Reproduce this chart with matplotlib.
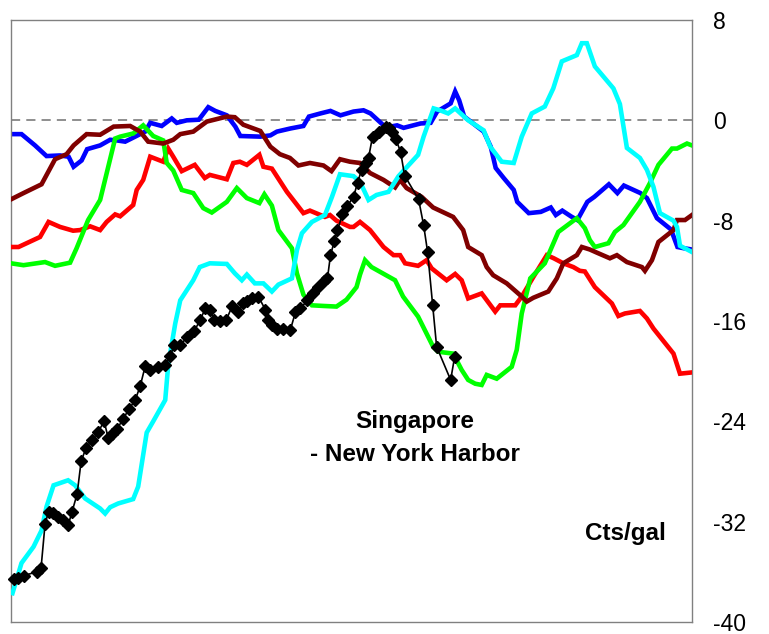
import matplotlib
matplotlib.use("Agg")
import matplotlib.pyplot as plt

plt.rcParams['font.family'] = ['Liberation Sans', 'DejaVu Sans']

# Weekly spreads, cents per gallon (x = week number)
blue_w = [0, 2.1, 4.8, 7.1, 9.8, 11.5, 12.5, 14.1, 15.2, 17.8, 19.8, 21.1, 22.8, 24.8, 26.8,
          27.8, 30.1, 32.1, 33.1, 35.1, 37.5, 39.4, 40.8, 43.1, 44.8, 45.8, 49.8, 51.8, 53.1,
          55.8, 58.4, 59.5, 61.8, 63.8, 65.8, 68.4, 70.4, 71.8, 74.4, 75.8, 77.1, 78.4, 81.8,
          83.8, 85.1, 87.8, 88.7, 89.5, 90.5, 93.1, 94.4, 95.8, 96.8, 98.4, 100.4, 101.1, 103.4,
          105.8, 107.8, 108.8, 110.1, 111.8, 113.1, 115.1, 116.5, 119.4, 121.1, 122.4, 125.7,
          127.0, 129.0, 131.8, 133.1, 134.4, 136]
blue_v = [-1.1, -1.1, -2.0, -2.85, -2.8, -2.9, -3.7, -3.2, -2.3, -2.0, -1.55, -1.6, -1.7, -1.3,
          -0.9, -0.2, -0.45, 0.15, -0.2, 0.0, 0.05, 1.05, 0.75, 0.4, -0.5, -1.25, -1.3, -1.2, -0.9,
          -0.65, -0.45, 0.3, 0.55, 0.75, 0.4, 0.7, 0.8, 0.55, -0.4, -0.5, -0.4, -0.6, -0.25, -0.2,
          0.7, 1.35, 2.3, 1.6, 0.3, -0.5, -0.9, -2.1, -3.8, -4.6, -5.55, -6.5, -7.4, -7.3, -6.95,
          -7.55, -7.2, -7.65, -7.95, -6.5, -6.1, -5.1, -5.8, -5.2, -5.8, -6.2, -7.8, -8.7, -10.1,
          -10.2, -10.3]

red_w = [0, 1.5, 5.8, 7.5, 9.8, 12.4, 13.8, 15.8, 17.8, 19.1, 20.8, 21.8, 24.4, 25.1, 26.4,
         27.8, 30.4, 31.4, 32.4, 34.1, 36.7, 38.7, 39.7, 43.1, 44.4, 45.7, 47.1, 49.6, 50.4, 52.1,
         55.1, 58.4, 59.7, 62.7, 63.7, 65.0, 67.7, 68.4, 69.7, 71.7, 74.4, 76.4, 77.7, 78.7, 81.3,
         83.0, 84.0, 87.0, 88.7, 90.0, 91.3, 94.0, 96.7, 97.7, 100.7, 102.0, 104.3, 107.0, 108.4,
         110.3, 112.3, 113.6, 114.6, 116.6, 120.0, 121.3, 122.6, 125.6, 127.0, 128.3, 132.3,
         133.6, 136]
red_v = [-10.1, -10.1, -9.3, -8.1, -8.5, -8.8, -8.75, -8.45, -8.75, -8.1, -7.5, -7.65, -6.75,
         -5.55, -4.75, -2.9, -3.3, -2.25, -2.9, -4.05, -3.55, -4.6, -4.35, -4.7, -3.4, -3.3, -3.55,
         -2.75, -3.7, -3.85, -5.7, -7.4, -7.2, -7.7, -7.55, -8.0, -8.5, -8.5, -8.1, -8.75, -10.1,
         -10.75, -10.75, -11.4, -11.6, -11.15, -11.8, -12.75, -12.25, -12.75, -14.2, -13.8,
         -15.25, -14.75, -14.75, -14.05, -12.5, -10.75, -11.0, -11.4, -11.7, -12.0, -12.05,
         -13.3, -14.6, -15.6, -15.4, -15.2, -15.8, -16.6, -18.6, -20.2, -20.1]

green_w = [0, 2.5, 6.8, 8.8, 11.8, 13.1, 15.4, 17.8, 20.8, 21.8, 24.4, 26.4, 28.4, 30.4, 31.1,
           32.4, 34.1, 36.4, 38.4, 40.1, 43.1, 45.1, 47.1, 49.6, 50.6, 52.1, 53.4, 56.1, 57.1,
           58.4, 60.1, 62.4, 65.0, 67.0, 69.0, 69.7, 70.7, 72.0, 76.7, 78.3, 81.3, 84.3, 85.3,
           88.3, 90.0, 91.3, 92.7, 94.0, 95.0, 97.0, 100.0, 101.0, 102.0, 103.7, 106.6, 108.0,
           109.3, 113.0, 114.6, 115.6, 116.6, 119.3, 120.6, 122.3, 125.6, 127.6, 129.3, 132.0,
           133.0, 135.0, 136]
green_v = [-11.4, -11.55, -11.3, -11.6, -11.35, -10.2, -7.95, -6.35, -1.45, -1.3, -1.05, -0.4,
           -1.25, -1.6, -3.4, -4.0, -5.55, -5.8, -7.0, -7.35, -6.5, -5.4, -6.2, -6.6, -5.9, -6.8,
           -8.75, -10.2, -12.2, -13.9, -14.75, -14.8, -14.85, -14.3, -13.3, -12.3, -11.15, -11.7,
           -12.75, -14.05, -15.65, -18.05, -18.45, -18.6, -19.9, -20.7, -21.0, -21.1, -20.3,
           -20.6, -19.65, -18.3, -15.4, -12.6, -11.4, -10.1, -8.9, -7.8, -8.6, -9.55, -10.1,
           -9.8, -8.9, -8.35, -6.5, -5.0, -3.55, -2.25, -2.25, -1.85, -2.0]

brown_w = [0, 2.5, 6.1, 8.8, 11.1, 12.5, 15.1, 17.8, 20.5, 23.8, 25.8, 27.4, 30.4, 32.4, 33.8,
           36.4, 39.1, 43.1, 44.7, 46.4, 49.8, 51.8, 53.7, 55.7, 57.4, 59.7, 62.4, 64.0, 65.7,
           67.7, 69.7, 71.7, 74.4, 76.7, 77.7, 79.0, 82.0, 84.3, 88.3, 90.3, 91.3, 94.0, 95.0,
           96.3, 99.0, 102.0, 103.0, 104.3, 107.3, 109.0, 110.3, 113.0, 114.0, 115.6, 117.0,
           119.6, 121.0, 123.0, 126.0, 126.6, 128.0, 129.3, 132.3, 133.0, 134.6, 136]
brown_v = [-6.3, -5.8, -5.1, -3.1, -2.7, -2.0, -1.1, -1.15, -0.5, -0.45, -0.9, -1.7, -1.85,
           -1.55, -1.1, -0.9, -0.1, 0.3, 0.25, -0.35, -0.85, -2.1, -2.7, -3.0, -3.6, -3.4, -3.6,
           -4.05, -3.1, -3.3, -3.4, -4.2, -4.75, -5.35, -4.75, -5.4, -6.1, -6.95, -7.7, -8.75,
           -10.1, -10.75, -11.7, -12.35, -13.0, -14.05, -14.45, -14.15, -13.65, -12.6, -11.4,
           -10.75, -10.1, -10.3, -10.55, -11.0, -10.75, -11.3, -11.7, -12.0, -11.15, -9.7, -8.75,
           -7.95, -7.95, -7.55]

cyan_w = [0.3, 2.1, 4.5, 6.1, 7.1, 8.5, 11.4, 12.8, 14.8, 17.8, 18.8, 19.8, 21.4, 24.4, 25.4,
          27.1, 28.4, 30.8, 31.4, 32.8, 33.8, 36.4, 37.7, 39.7, 43.1, 44.7, 46.1, 47.1, 48.7,
          50.4, 52.1, 53.4, 56.1, 57.1, 58.1, 60.1, 62.7, 64.1, 65.7, 68.4, 69.7, 71.4, 73.0,
          75.4, 77.4, 81.3, 82.4, 84.4, 85.7, 87.3, 88.7, 91.3, 94.4, 95.7, 98.0, 100.4, 102.0,
          104.0, 106.6, 108.3, 110.0, 113.0, 114.0, 115.0, 116.6, 120.3, 121.6, 123.0, 125.6,
          127.0, 128.3, 129.6, 132.3, 133.0, 133.6, 136]
cyan_v = [-37.7, -35.3, -34.0, -32.7, -30.8, -29.1, -28.7, -29.1, -30.15, -30.95, -31.35,
          -30.85, -30.55, -30.2, -29.2, -24.9, -24.0, -22.3, -19.5, -16.2, -14.35, -12.75, -11.7,
          -11.4, -11.45, -12.2, -12.75, -12.3, -13.0, -13.0, -13.65, -13.1, -12.6, -10.35, -9.0,
          -8.1, -7.55, -6.1, -4.3, -4.45, -4.9, -6.35, -5.95, -5.7, -4.45, -2.75, -1.3, 0.95,
          0.8, 0.55, 0.95, 0.0, -0.8, -2.1, -3.3, -3.4, -1.3, 0.55, 1.1, 2.55, 4.7, 5.2, 6.15,
          6.15, 4.3, 2.55, 1.3, -2.2, -3.0, -3.95, -5.3, -7.4, -8.0, -8.5, -10.0, -10.5]

# Singapore - New York Harbor
sny_w = [0.5, 1.4, 2.5, 5.2, 6.0, 6.8, 7.5, 8.4, 9.4, 10.4, 11.4, 12.2, 13.2, 14.0, 15.0, 16.2,
         17.4, 18.6, 19.4, 20.2, 21.2, 22.4, 23.6, 24.8, 25.8, 26.8, 27.8, 29.4, 30.8, 31.8,
         32.6, 33.8, 35.2, 36.6, 37.8, 38.8, 39.8, 40.6, 41.8, 43.0, 44.2, 45.4, 46.4, 47.2,
         48.2, 49.4, 50.8, 51.4, 52.2, 53.2, 54.4, 55.8, 56.8, 57.8, 59.2, 60.4, 61.4, 62.6,
         63.2, 63.8, 64.6, 65.2, 66.2, 67.2, 68.4, 69.2, 70.0, 70.8, 71.4, 72.2, 73.4, 74.8,
         75.4, 76.0, 76.8, 77.8, 78.6, 81.4, 82.4, 83.2, 84.2, 85.0, 87.8, 88.6]
sny_v = [-36.6, -36.5, -36.3, -36.0, -35.7, -32.2, -31.2, -31.3, -31.6, -31.9, -32.3, -31.2,
         -29.8, -27.2, -26.1, -25.5, -24.85, -24.0, -25.3, -25.0, -24.6, -23.8, -23.0, -22.3,
         -21.2, -19.6, -19.9, -19.7, -19.5, -18.8, -17.9, -17.9, -17.3, -16.8, -15.9, -15.0,
         -15.1, -15.9, -16.0, -15.9, -14.8, -15.3, -14.6, -14.4, -14.2, -14.05, -15.1, -15.9,
         -16.3, -16.6, -16.6, -16.7, -15.3, -15.0, -14.35, -13.8, -13.3, -12.8, -12.6, -10.75,
         -9.6, -8.75, -7.5, -6.8, -6.1, -5.0, -3.95, -3.4, -3.0, -1.3, -0.9, -0.5, -0.65, -0.9,
         -1.45, -2.5, -4.4, -6.3, -8.35, -10.5, -14.7, -18.05, -20.7, -18.85]

y_ticks = [8, 0, -8, -16, -24, -32, -40]

fig = plt.figure(figsize=(7.69, 6.34), dpi=100)
ax = fig.add_axes([11 / 769, 12 / 634, 681 / 769, 602 / 634])

lw = 3.3
ax.axhline(0, color='#707070', lw=1.1, ls=(0, (6, 4)), zorder=1)
ax.plot(blue_w, blue_v, color='#0000FF', lw=lw, zorder=2, solid_joinstyle='miter')
ax.plot(red_w, red_v, color='#FF0000', lw=lw, zorder=3, solid_joinstyle='miter')
ax.plot(green_w, green_v, color='#00FF00', lw=lw, zorder=4, solid_joinstyle='miter')
ax.plot(brown_w, brown_v, color='#800000', lw=lw, zorder=5, solid_joinstyle='miter')
ax.plot(cyan_w, cyan_v, color='#00FFFF', lw=lw, zorder=6, solid_joinstyle='miter')
ax.plot(sny_w, sny_v, color='black', lw=1.2, marker='D', ms=6, mfc='black', mec='black',
        zorder=7, clip_on=False)

ax.set_xlim(0, 136)
ax.set_ylim(-40, 8)
ax.set_xticks([])
ax.yaxis.tick_right()
ax.set_yticks(y_ticks)
ax.set_yticklabels([str(t) for t in y_ticks])
ax.tick_params(axis='y', length=0, pad=15, labelsize=16.5)
for lab in ax.get_yticklabels():
    lab.set_horizontalalignment('left')

for s in ax.spines.values():
    s.set_color('#808080')
    s.set_linewidth(1.0)

ax.text(80.7, -24.55, 'Singapore', ha='center', va='baseline', fontsize=17.5,
        fontweight='bold')
ax.text(80.7, -27.2, '- New York Harbor', ha='center', va='baseline', fontsize=17.5,
        fontweight='bold')
ax.text(122.8, -33.45, 'Cts/gal', ha='center', va='baseline', fontsize=17.5,
        fontweight='bold')

fig.savefig('out.png', dpi=100)
